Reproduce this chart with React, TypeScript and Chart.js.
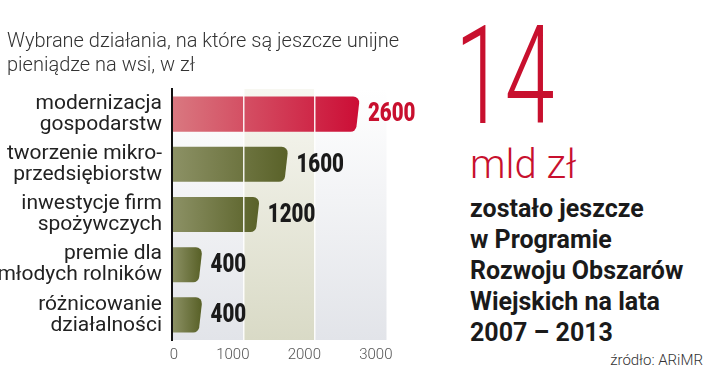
import React, { useEffect, useRef } from 'react';
import { Chart, registerables } from 'chart.js';

Chart.register(...registerables);

// ---- data ----
const categories: string[][] = [
  ['modernizacja', 'gospodarstw'],
  ['tworzenie mikro-', 'przedsiębiorstw'],
  ['inwestycje firm', 'spożywczych'],
  ['premie dla', 'młodych rolników'],
  ['różnicowanie', 'działalności'],
];
const values: number[] = [2600, 1600, 1200, 400, 400];
const valueLabels: string[] = ['2600', '1600', '1200', '400', '400'];
const xMin = 0;
const xMax = 3000;
const xStep = 1000;
const bandFrom = 1000;
const bandTo = 2000;
const titleLines: string[] = ['Wybrane działania, na które są jeszcze unijne', 'pieniądze na wsi, w zł'];
const bigNumber = '14';
const bigUnit = 'mld zł';
const noteLines: string[] = ['zostało jeszcze', 'w Programie', 'Rozwoju Obszarów', 'Wiejskich na lata', '2007 – 2013'];
const sourceText = 'źródło: ARiMR';

const RED = '#c8102e';
const CANVAS_W = 450;

const customPlugin = {
  id: 'customLook',
  beforeDraw(chart: any) {
    const { ctx, chartArea: ca, scales } = chart;
    const x = scales.x;
    const p0 = x.getPixelForValue(xMin);
    const p3 = x.getPixelForValue(xMax);
    const b1 = x.getPixelForValue(bandFrom);
    const b2 = x.getPixelForValue(bandTo);
    ctx.save();
    const g = ctx.createLinearGradient(0, ca.top, 0, ca.bottom);
    g.addColorStop(0, '#ffffff');
    g.addColorStop(1, '#e2e4e9');
    ctx.fillStyle = g;
    ctx.fillRect(p0, ca.top, p3 - p0, ca.bottom - ca.top);
    const g2 = ctx.createLinearGradient(0, ca.top, 0, ca.bottom);
    g2.addColorStop(0, '#f7f7f1');
    g2.addColorStop(1, '#d9dac6');
    ctx.fillStyle = g2;
    ctx.fillRect(b1, ca.top, b2 - b1, ca.bottom - ca.top);
    ctx.restore();
  },
  beforeDatasetDraw(chart: any, args: any) {
    const meta = chart.getDatasetMeta(args.index);
    const ctx = chart.ctx;
    ctx.save();
    meta.data.forEach((el: any, i: number) => {
      const { x, y, base, height } = el.getProps(['x', 'y', 'base', 'height'], true);
      const top = y - height / 2;
      const bottom = y + height / 2;
      const s = 2;
      const r = 6;
      const grad = ctx.createLinearGradient(base, 0, x, 0);
      if (i === 0) {
        grad.addColorStop(0, '#d97880');
        grad.addColorStop(1, '#cc0e36');
      } else {
        grad.addColorStop(0, '#8c9165');
        grad.addColorStop(1, '#5a6229');
      }
      ctx.beginPath();
      ctx.moveTo(base, top);
      ctx.arcTo(x + s, top, x - s, bottom, r);
      ctx.arcTo(x - s, bottom, base, bottom, r);
      ctx.lineTo(base, bottom);
      ctx.closePath();
      ctx.fillStyle = grad;
      ctx.fill();
    });
    ctx.restore();
    return false;
  },
  afterDraw(chart: any) {
    const meta = chart.getDatasetMeta(0);
    const ctx = chart.ctx;
    ctx.save();
    ctx.font = '900 25px Roboto';
    ctx.textBaseline = 'middle';
    ctx.textAlign = 'left';
    meta.data.forEach((el: any, i: number) => {
      const { x, y } = el.getProps(['x', 'y'], true);
      ctx.fillStyle = i === 0 ? RED : '#1a1a1a';
      ctx.save();
      ctx.translate(x + 10, y + 1);
      ctx.scale(0.82, 1);
      ctx.fillText(valueLabels[i], 0, 0);
      ctx.restore();
    });
    ctx.restore();
  },
};

export default function App() {
  const ref = useRef<HTMLCanvasElement | null>(null);
  useEffect(() => {
    if (!ref.current) return;
    const chart = new Chart(ref.current, {
      type: 'bar',
      data: {
        labels: categories as any,
        datasets: [
          {
            data: values,
            backgroundColor: values.map((_, i) => (i === 0 ? RED : '#5a6229')),
            barPercentage: 0.7,
            categoryPercentage: 1,
          },
        ],
      },
      options: {
        indexAxis: 'y',
        responsive: false,
        animation: false,
        layout: { padding: { top: 89, right: CANVAS_W - 386.5, left: 0, bottom: 0 } },
        plugins: {
          legend: { display: false },
          tooltip: { enabled: false },
          title: { display: false },
        },
        scales: {
          x: {
            type: 'linear',
            min: xMin,
            max: xMax,
            ticks: {
              stepSize: xStep,
              callback: (v: any) => String(v),
              font: { family: 'Roboto', size: 15, weight: '300' },
              color: '#555',
              padding: 6,
              align: 'end',
              labelOffset: 6,
            },
            grid: {
              color: (c: any) =>
                c.tick && (c.tick.value === bandFrom || c.tick.value === bandTo)
                  ? 'rgba(255,255,255,0.9)'
                  : 'rgba(0,0,0,0)',
              lineWidth: 1.5,
              drawTicks: false,
              z: 1,
            },
            border: { display: false },
            afterFit: (s: any) => {
              s.height = 23;
            },
          },
          y: {
            grid: { display: false, drawTicks: false },
            border: { display: true, color: '#111', width: 2, z: 2 },
            ticks: {
              font: { family: 'Roboto', size: 21, lineHeight: 1.0 },
              color: '#222',
              padding: 10,
            },
            afterFit: (s: any) => {
              s.width = 172;
            },
          },
        },
      },
      plugins: [customPlugin],
    } as any);
    return () => chart.destroy();
  }, []);

  return (
    <div
      style={{
        position: 'absolute',
        left: 0,
        top: 0,
        width: 720,
        height: 371,
        background: '#fff',
        overflow: 'hidden',
        fontFamily: 'Roboto, sans-serif',
      }}
    >
      <canvas ref={ref} width={CANVAS_W} height={371} style={{ position: 'absolute', left: 0, top: 0 }} />
      <div
        style={{
          position: 'absolute',
          left: 7,
          top: 28,
          fontSize: 20,
          lineHeight: '24px',
          fontWeight: 300,
          color: '#333',
          whiteSpace: 'nowrap',
          transformOrigin: 'left top',
        }}
      >
        {titleLines.map((l) => (
          <div key={l}>{l}</div>
        ))}
      </div>
      <div
        style={{
          position: 'absolute',
          left: 455,
          top: 7,
          fontSize: 138,
          lineHeight: '138px',
          fontWeight: 300,
          color: RED,
          whiteSpace: 'nowrap',
          transform: 'scaleX(0.65)',
          transformOrigin: 'left top',
        }}
      >
        {bigNumber}
      </div>
      <div
        style={{
          position: 'absolute',
          left: 470,
          top: 145,
          fontSize: 40,
          lineHeight: '40px',
          fontWeight: 300,
          color: RED,
          whiteSpace: 'nowrap',
        }}
      >
        {bigUnit}
      </div>
      <div
        style={{
          position: 'absolute',
          left: 470,
          top: 193,
          fontSize: 25,
          lineHeight: '31px',
          fontWeight: 700,
          color: '#1a1a1a',
          whiteSpace: 'nowrap',
        }}
      >
        {noteLines.map((l) => (
          <div key={l}>{l}</div>
        ))}
      </div>
      <div
        style={{
          position: 'absolute',
          right: 17,
          top: 351,
          fontSize: 15,
          lineHeight: '18px',
          fontWeight: 300,
          color: '#333',
          whiteSpace: 'nowrap',
        }}
      >
        {sourceText}
      </div>
    </div>
  );
}
